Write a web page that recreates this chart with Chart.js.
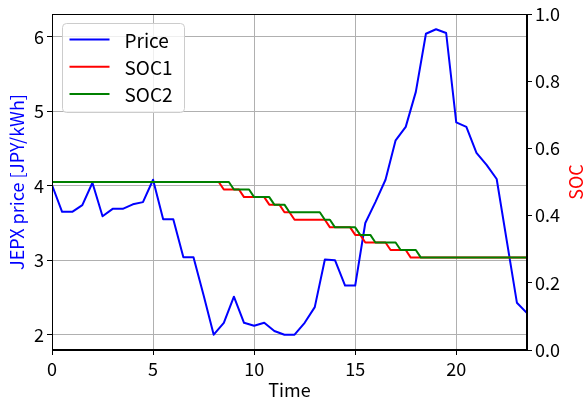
<!DOCTYPE html>
<html>
<head>
<meta charset="utf-8">
<script src="https://cdn.jsdelivr.net/npm/chart.js@4.4.1/dist/chart.umd.min.js"></script>
<style>
  html, body { margin: 0; padding: 0; background: #ffffff; }
  canvas { display: block; }
</style>
</head>
<body>
<canvas id="c" width="587" height="403"></canvas>
<script>
// ---- data ----
const priceStep = 0.5;   // hours between price samples
const socStep = 0.25;    // hours between SOC samples
const price = [4.01, 3.65, 3.65, 3.74, 4.04, 3.59, 3.69, 3.69, 3.75, 3.78,
               4.08, 3.55, 3.55, 3.04, 3.04, 2.53, 2.00, 2.16, 2.51, 2.16,
               2.12, 2.16, 2.05, 2.00, 2.00, 2.16, 2.37, 3.01, 3.00, 2.66,
               2.66, 3.50, 3.78, 4.08, 4.61, 4.79, 5.26, 6.04, 6.10, 6.05,
               4.85, 4.79, 4.44, 4.28, 4.09, 3.26, 2.43, 2.29];
const soc1 = [
  0.5, 0.5, 0.5, 0.5, 0.5, 0.5, 0.5, 0.5, 0.5, 0.5,
  0.5, 0.5, 0.5, 0.5, 0.5, 0.5, 0.5, 0.5, 0.5, 0.5,
  0.5, 0.5, 0.5, 0.5, 0.5, 0.5, 0.5, 0.5, 0.5, 0.5,
  0.5, 0.5, 0.5, 0.5,
  0.4775, 0.4775, 0.4775, 0.4775,
  0.455, 0.455, 0.455, 0.455, 0.455,
  0.4325, 0.4325, 0.4325,
  0.41, 0.41,
  0.3875, 0.3875, 0.3875, 0.3875, 0.3875, 0.3875, 0.3875,
  0.365, 0.365, 0.365, 0.365, 0.365,
  0.3425, 0.3425,
  0.32, 0.32, 0.32, 0.32, 0.32,
  0.2975, 0.2975, 0.2975, 0.2975,
  0.275, 0.275, 0.275, 0.275, 0.275, 0.275, 0.275, 0.275, 0.275, 0.275,
  0.275, 0.275, 0.275, 0.275, 0.275, 0.275, 0.275, 0.275, 0.275, 0.275,
  0.275, 0.275, 0.275, 0.275];
const soc2 = [
  0.5, 0.5, 0.5, 0.5, 0.5, 0.5, 0.5, 0.5, 0.5, 0.5,
  0.5, 0.5, 0.5, 0.5, 0.5, 0.5, 0.5, 0.5, 0.5, 0.5,
  0.5, 0.5, 0.5, 0.5, 0.5, 0.5, 0.5, 0.5, 0.5, 0.5,
  0.5, 0.5, 0.5, 0.5, 0.5, 0.5,
  0.4775, 0.4775, 0.4775, 0.4775,
  0.455, 0.455, 0.455, 0.455,
  0.4325, 0.4325, 0.4325,
  0.41, 0.41, 0.41, 0.41, 0.41, 0.41, 0.41,
  0.3875, 0.3875,
  0.365, 0.365, 0.365, 0.365, 0.365,
  0.3425, 0.3425, 0.3425,
  0.32, 0.32, 0.32, 0.32, 0.32,
  0.2975, 0.2975, 0.2975, 0.2975,
  0.275, 0.275, 0.275, 0.275, 0.275, 0.275, 0.275, 0.275, 0.275, 0.275,
  0.275, 0.275, 0.275, 0.275, 0.275, 0.275, 0.275, 0.275, 0.275, 0.275,
  0.275, 0.275];
const xTicks = [0, 5, 10, 15, 20];
const priceTicks = [2, 3, 4, 5, 6];
const socTicks = [0.0, 0.2, 0.4, 0.6, 0.8, 1.0];
const xRange = [0, 23.5];
const priceRange = [1.795, 6.305];
const socRange = [0, 1];

// ---- chart ----
const FONT = '"Noto Sans CJK JP", "Noto Sans", sans-serif';
const toXY = (arr, step) => arr.map((v, i) => ({ x: i * step, y: v }));

const frameAndExtras = {
  id: 'frameAndExtras',
  afterDatasetsDraw(chart) {
    const { ctx, chartArea: ca } = chart;
    // frame (spines)
    ctx.save();
    ctx.strokeStyle = '#000000';
    ctx.lineWidth = 1;
    ctx.strokeRect(Math.round(ca.left) + 0.5, Math.round(ca.top) + 0.5,
                   Math.round(ca.right - ca.left) - 1, Math.round(ca.bottom - ca.top) - 1);
    ctx.restore();

    // legend box
    const ds = chart.data.datasets;
    const bx = ca.left + 10.5, by = ca.top + 9.5, bw = 122, bh = 89, r = 4;
    ctx.save();
    ctx.beginPath();
    ctx.moveTo(bx + r, by);
    ctx.lineTo(bx + bw - r, by);
    ctx.quadraticCurveTo(bx + bw, by, bx + bw, by + r);
    ctx.lineTo(bx + bw, by + bh - r);
    ctx.quadraticCurveTo(bx + bw, by + bh, bx + bw - r, by + bh);
    ctx.lineTo(bx + r, by + bh);
    ctx.quadraticCurveTo(bx, by + bh, bx, by + bh - r);
    ctx.lineTo(bx, by + r);
    ctx.quadraticCurveTo(bx, by, bx + r, by);
    ctx.closePath();
    ctx.fillStyle = 'rgba(255,255,255,0.8)';
    ctx.fill();
    ctx.strokeStyle = '#cccccc';
    ctx.lineWidth = 1;
    ctx.stroke();
    ctx.font = '19px ' + FONT;
    ctx.textBaseline = 'middle';
    ctx.textAlign = 'left';
    ds.forEach((d, i) => {
      const yy = by + 16 + i * 27.3;
      ctx.beginPath();
      ctx.strokeStyle = d.borderColor;
      ctx.lineWidth = 2;
      ctx.moveTo(bx + 7, yy);
      ctx.lineTo(bx + 47, yy);
      ctx.stroke();
      ctx.fillStyle = '#000000';
      ctx.fillText(d.label, bx + 62, yy + 1);
    });
    ctx.restore();

    // right axis title (rotated counter-clockwise)
    ctx.save();
    ctx.translate(576, (ca.top + ca.bottom) / 2);
    ctx.rotate(-Math.PI / 2);
    ctx.font = '18px ' + FONT;
    ctx.fillStyle = '#ff0000';
    ctx.textAlign = 'center';
    ctx.textBaseline = 'middle';
    ctx.fillText('SOC', 0, 0);
    ctx.restore();
  }
};

const tickFont = { family: FONT, size: 18 };

new Chart(document.getElementById('c'), {
  type: 'line',
  data: {
    datasets: [
      { label: 'Price', data: toXY(price, priceStep), borderColor: '#0000ff', backgroundColor: '#0000ff',
        borderWidth: 2, pointRadius: 0, tension: 0, yAxisID: 'y', order: 3, borderJoinStyle: 'round' },
      { label: 'SOC1', data: toXY(soc1, socStep), borderColor: '#ff0000', backgroundColor: '#ff0000',
        borderWidth: 2, pointRadius: 0, tension: 0, yAxisID: 'y1', order: 2, borderJoinStyle: 'round' },
      { label: 'SOC2', data: toXY(soc2, socStep), borderColor: '#008000', backgroundColor: '#008000',
        borderWidth: 2, pointRadius: 0, tension: 0, yAxisID: 'y1', order: 1, borderJoinStyle: 'round' }
    ]
  },
  options: {
    responsive: false,
    animation: false,
    devicePixelRatio: 1,
    layout: { padding: { top: 14, left: 0, right: 0, bottom: 0 } },
    plugins: { legend: { display: false }, tooltip: { enabled: false } },
    scales: {
      x: {
        type: 'linear', min: xRange[0], max: xRange[1],
        afterBuildTicks: s => { s.ticks = xTicks.map(v => ({ value: v })); },
        afterFit: s => { s.height = 53; },
        ticks: { font: tickFont, color: '#000', padding: 3, maxRotation: 0 },
        grid: { color: '#b0b0b0', lineWidth: 1, tickColor: '#000', tickLength: 5 },
        border: { color: '#000', width: 1 },
        title: { display: true, text: 'Time', color: '#000', font: { family: FONT, size: 18 },
                 padding: { top: 0, bottom: 2 } }
      },
      y: {
        type: 'linear', position: 'left', min: priceRange[0], max: priceRange[1],
        afterBuildTicks: s => { s.ticks = priceTicks.map(v => ({ value: v })); },
        afterFit: s => { s.width = 52; },
        ticks: { font: tickFont, color: '#000', padding: 3 },
        grid: { color: '#b0b0b0', lineWidth: 1, tickColor: '#000', tickLength: 5 },
        border: { color: '#000', width: 1 },
        title: { display: true, text: 'JEPX price [JPY/kWh]', color: '#0000ff',
                 font: { family: FONT, size: 18 }, padding: { top: 6, bottom: 0 } }
      },
      y1: {
        type: 'linear', position: 'right', min: socRange[0], max: socRange[1],
        afterBuildTicks: s => { s.ticks = socTicks.map(v => ({ value: v })); },
        afterFit: s => { s.width = 60; },
        ticks: { font: tickFont, color: '#000', padding: 3, callback: v => Number(v).toFixed(1) },
        grid: { drawOnChartArea: false, tickColor: '#000', tickLength: 5 },
        border: { color: '#000', width: 1 }
      }
    }
  },
  plugins: [frameAndExtras]
});
</script>
</body>
</html>
